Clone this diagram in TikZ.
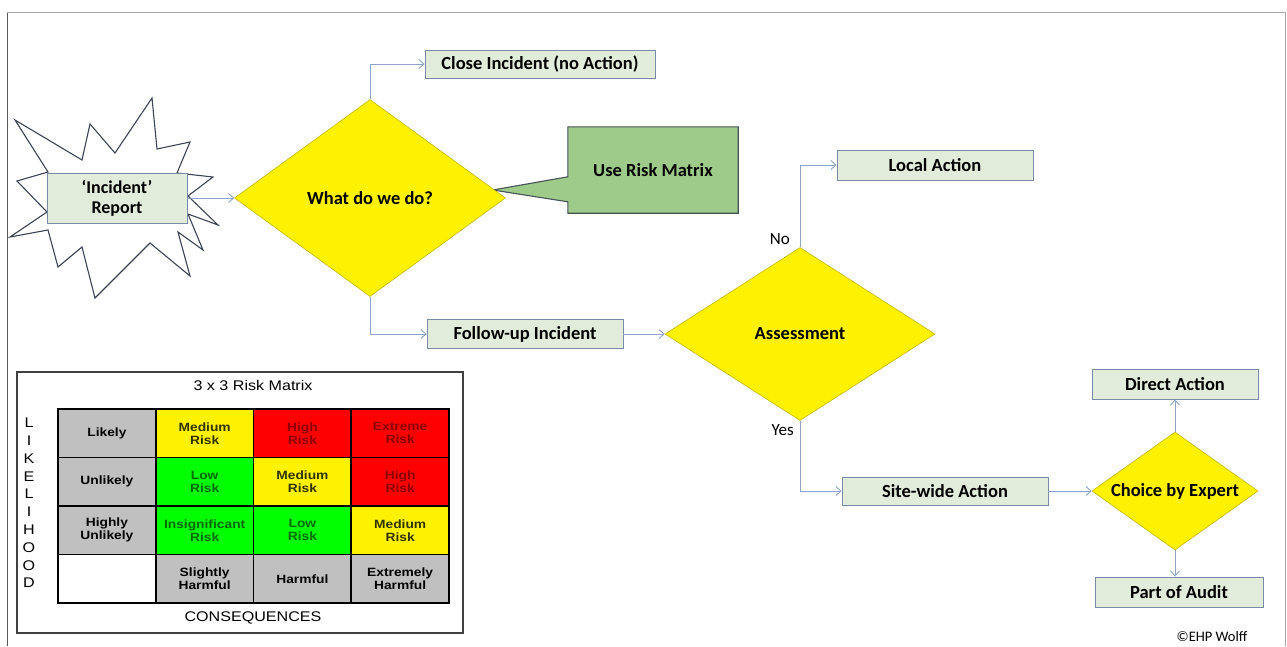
\documentclass[tikz,border=0pt]{standalone}
\usepackage{fontspec}
\setmainfont{Carlito}
\newfontfamily\matrixfont[FakeStretch=1.15]{Liberation Sans}
\usepackage{tikz}
\usetikzlibrary{shapes.geometric, arrows.meta, positioning, calc, backgrounds}

\definecolor{boxgreen}{RGB}{226,236,218}
\definecolor{boxline}{RGB}{120,138,165}
\definecolor{arrowblue}{RGB}{140,165,200}
\definecolor{calloutgreen}{RGB}{158,202,138}
\definecolor{calloutline}{RGB}{70,82,90}
\definecolor{diamondline}{RGB}{200,180,0}
\definecolor{cellgray}{RGB}{192,192,192}
\definecolor{redtext}{RGB}{140,0,0}
\definecolor{greentext}{RGB}{0,105,0}
\definecolor{yellowtext}{RGB}{50,50,0}
\definecolor{starline}{RGB}{60,68,85}

\begin{document}
\begin{tikzpicture}[x=1pt, y=-1pt,
    actionbox/.style={rectangle, draw=boxline, fill=boxgreen, line width=0.9pt,
        inner sep=0pt, font=\bfseries\fontsize{18.5}{21}\selectfont},
    decision/.style={diamond, draw=diamondline, fill=yellow, line width=0.6pt,
        inner sep=0pt, font=\bfseries\fontsize{18.5}{21}\selectfont},
    flowarrow/.style={draw=arrowblue, line width=0.9pt,
        -{Straight Barb[length=5pt, width=9pt]}},
    flowlabel/.style={inner sep=0pt, font=\fontsize{17}{20}\selectfont},
    riskcell/.style={draw=black, line width=1.6pt},
    celltext/.style={align=center, inner sep=0pt,
        font=\matrixfont\bfseries\fontsize{12}{13}\selectfont},
    matrixtext/.style={inner sep=0pt, font=\matrixfont\fontsize{14}{16}\selectfont}
]
\useasboundingbox (0,0) rectangle (1287,646);

% frame
\draw[black!65, line width=0.9pt] (7,646) -- (7,12);
\draw[black!35, line width=0.9pt] (7,12) -- (1285,12) -- (1285,646);

% incident star
\draw[starline, fill=white, line width=1.1pt, line join=miter]
    (15,120) -- (82,160) -- (90,124) -- (115,153) -- (152,98) -- (157,149)
    -- (190,142) -- (177,173) -- (213,177) -- (188,196) -- (218,225)
    -- (188,214) -- (203,250) -- (178,232) -- (190,276) -- (150,243)
    -- (95,298) -- (82,247) -- (58,267) -- (48,230) -- (10,237)
    -- (47,212) -- (17,181) -- (48,172) -- cycle;

\node[actionbox, minimum width=140pt, minimum height=50pt, align=center,
    font=\bfseries\fontsize{18}{20}\selectfont] (report) at (117,198)
    {`Incident'\\Report};

% first decision
\node[decision, minimum width=271pt, minimum height=197pt] (whatdo) at (370,198)
    {What do we do?};
\node[actionbox, minimum width=230pt, minimum height=28pt] (close) at (540,64)
    {Close Incident (no Action)};
\node[actionbox, minimum width=196pt, minimum height=29pt] (followup) at (525,334)
    {Follow-up Incident};

% callout
\node[inner sep=0pt, minimum width=170pt, minimum height=86pt,
    font=\bfseries\fontsize{18.5}{21}\selectfont] (usematrix) at (653,170)
    {Use Risk Matrix};
\coordinate (calltip) at ($(whatdo.east)+(-13,-8)$);
\begin{scope}[on background layer]
\draw[draw=calloutline, fill=calloutgreen, line width=1.1pt]
    (usematrix.north west) -- (usematrix.north east) -- (usematrix.south east)
    -- (usematrix.south west) -- ($(usematrix.north west)+(0,75)$)
    -- (calltip) -- ($(usematrix.north west)+(0,50)$) -- cycle;
\end{scope}

% assessment
\node[decision, minimum width=270pt, minimum height=173pt] (assess) at (800,334)
    {Assessment};
\node[actionbox, minimum width=196pt, minimum height=30pt] (local) at (935,165)
    {Local Action};
\node[actionbox, minimum width=206pt, minimum height=28pt] (site) at (945,491)
    {Site-wide Action};
\node[flowlabel, above left=2pt and 10pt of assess.north] (nolabel) {No};
\node[flowlabel, below left=4pt and 6pt of assess.south] (yeslabel) {Yes};

% expert choice
\node[decision, minimum width=166pt, minimum height=118pt, aspect=1.4] (choice)
    at (1175,491) {Choice by Expert};
\node[actionbox, minimum width=166pt, minimum height=30pt] (direct) at (1175,384)
    {Direct Action};
\node[actionbox, minimum width=168pt, minimum height=30pt] (audit) at (1179,592)
    {Part of Audit};

\draw[flowarrow] (report.east) -- (whatdo.west);
\draw[flowarrow] (whatdo.north) |- (close.west);
\draw[flowarrow] (whatdo.south) |- (followup.west);
\draw[flowarrow] (followup.east) -- (assess.west);
\draw[flowarrow] (assess.north) |- (local.west);
\draw[flowarrow] (assess.south) |- (site.west);
\draw[flowarrow] (site.east) -- (choice.west);
\draw[flowarrow] (choice.north) -- (direct.south);
\draw[flowarrow] (choice.south) -- (choice.south |- audit.north);

\node[font=\fontsize{14.5}{16}\selectfont, inner sep=0pt] (copyright) at (1212,637)
    {\textcopyright EHP Wolff};

% 3 x 3 risk matrix
\draw[black!75, line width=1.2pt] (17,372) rectangle (463,633);
\node[matrixtext] (mtitle) at (253,385) {3 x 3 Risk Matrix};
\node[matrixtext] (consequences) at (253,618) {CONSEQUENCES};

\foreach \ch [count=\i] in {L,I,K,E,L,I,H,O,O,D}
    \node[matrixtext] (likely\i) at (29,405+17.8*\i) {\ch};

\foreach \c/\r/\bg/\fg/\txt in {
    0/0/cellgray/black/Likely, 1/0/yellow/yellowtext/{Medium\\Risk},
    2/0/red/redtext/{High\\Risk}, 3/0/red/redtext/{Extreme\\Risk},
    0/1/cellgray/black/Unlikely, 1/1/green/greentext/{Low\\Risk},
    2/1/yellow/yellowtext/{Medium\\Risk}, 3/1/red/redtext/{High\\Risk},
    0/2/cellgray/black/{Highly\\Unlikely}, 1/2/green/greentext/{Insignificant\\Risk},
    2/2/green/greentext/{Low\\Risk}, 3/2/yellow/yellowtext/{Medium\\Risk},
    0/3/white/black/{}, 1/3/cellgray/black/{Slightly\\Harmful},
    2/3/cellgray/black/Harmful, 3/3/cellgray/black/{Extremely\\Harmful}}
{
    \draw[riskcell, fill=\bg] (58+97.75*\c,409+48.5*\r) rectangle ++(97.75,48.5);
    \node[celltext, text=\fg] (cell\c\r) at (106.9+97.75*\c,433.25+48.5*\r) {\txt};
}

\end{tikzpicture}
\end{document}
